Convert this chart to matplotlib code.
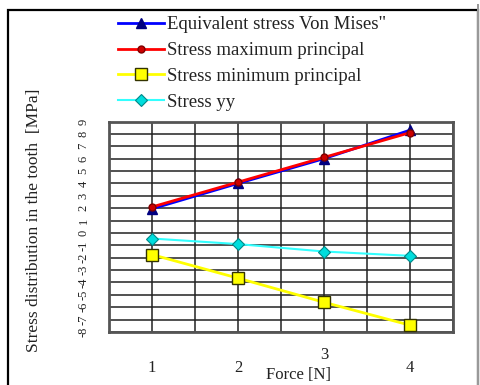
import matplotlib
matplotlib.use('Agg')
import matplotlib.pyplot as plt
from matplotlib.patches import Rectangle

# Data
force = [1, 2, 3, 4]
von_mises = [1.95, 4.0, 6.0, 8.3]
max_principal = [2.1, 4.1, 6.1, 8.1]
min_principal = [-1.75, -3.65, -5.6, -7.45]
stress_yy = [-0.45, -0.9, -1.5, -1.85]

y_ticks = list(range(-8, 10))
x_ticks = [1, 2, 3, 4]

plt.rcParams['font.family'] = ['Liberation Serif', 'DejaVu Serif']

fig = plt.figure(figsize=(4.81, 3.85), dpi=100)
fig.patch.set_facecolor('white')

# outer frame
fig.patches.append(Rectangle((8 / 481, -0.01), 470 / 481, 1 - 9.5 / 385 + 0.01,
                             transform=fig.transFigure, fill=False,
                             edgecolor='black', linewidth=1.6))
fig.patches.append(Rectangle((478 / 481, -0.01), 0.001, 1.0,
                             transform=fig.transFigure, fill=False,
                             edgecolor='#999999', linewidth=1.2))

ax = fig.add_axes([109 / 481, 1 - 332 / 385, 344 / 481, 210.5 / 385])

ax.plot(force, von_mises, color='#0000ff', lw=2, marker='^', ms=7,
        mfc='#000080', mec='#000080', label='Equivalent stress Von Mises"', zorder=4)
ax.plot(force, max_principal, color='#ff0000', lw=2, marker='o', ms=5,
        mfc='#cc0000', mec='#800000', label='Stress maximum principal', zorder=5)
ax.plot(force, min_principal, color='#ffff00', lw=2, marker='s', ms=8,
        mfc='#ffff00', mec='#333300', mew=1, label='Stress minimum principal', zorder=3)
ax.plot(force, stress_yy, color='#33ffff', lw=1.5, marker='D', ms=6,
        mfc='#00dddd', mec='#008888', mew=0.8, label='Stress yy', zorder=3)

ax.set_xlim(0.5, 4.5)
ax.set_ylim(-8, 9)
ax.set_xticks([0.5 + 0.5 * i for i in range(9)], minor=True)
ax.set_xticks(x_ticks)
ax.set_yticks(y_ticks)
ax.set_yticklabels([str(v) for v in y_ticks], rotation=90, va='center', fontsize=9)
ax.set_xticklabels([str(v) for v in x_ticks], fontsize=12)
ax.grid(True, which='both', axis='x', color='#222222', lw=1.1)
ax.grid(True, which='major', axis='y', color='#222222', lw=1.1)
ax.tick_params(axis='both', which='both', length=0, colors='#222222')
ax.tick_params(axis='x', pad=20)
ax.tick_params(axis='y', pad=14)
ax.xaxis.get_major_ticks()[2].set_pad(11)
for sp in ax.spines.values():
    sp.set_color('#555555')
    sp.set_linewidth(2)

ax.set_xlabel('Force [N]', fontsize=12, color='#222222')
ax.xaxis.set_label_coords(0.55, -0.165)
ax.set_ylabel('Stress distribution in the tooth  [MPa]', fontsize=12.5, color='#222222')
ax.yaxis.set_label_coords(-0.195, 0.53)

leg = fig.legend(loc='upper left', bbox_to_anchor=(118 / 481, 1 - 16 / 385),
                 frameon=False, fontsize=13.5, handlelength=2.45, handletextpad=0.15,
                 labelspacing=0.47, borderpad=0, borderaxespad=0, markerscale=1.0)
for t in leg.get_texts():
    t.set_color('#222222')

fig.savefig('out.png', dpi=100)
